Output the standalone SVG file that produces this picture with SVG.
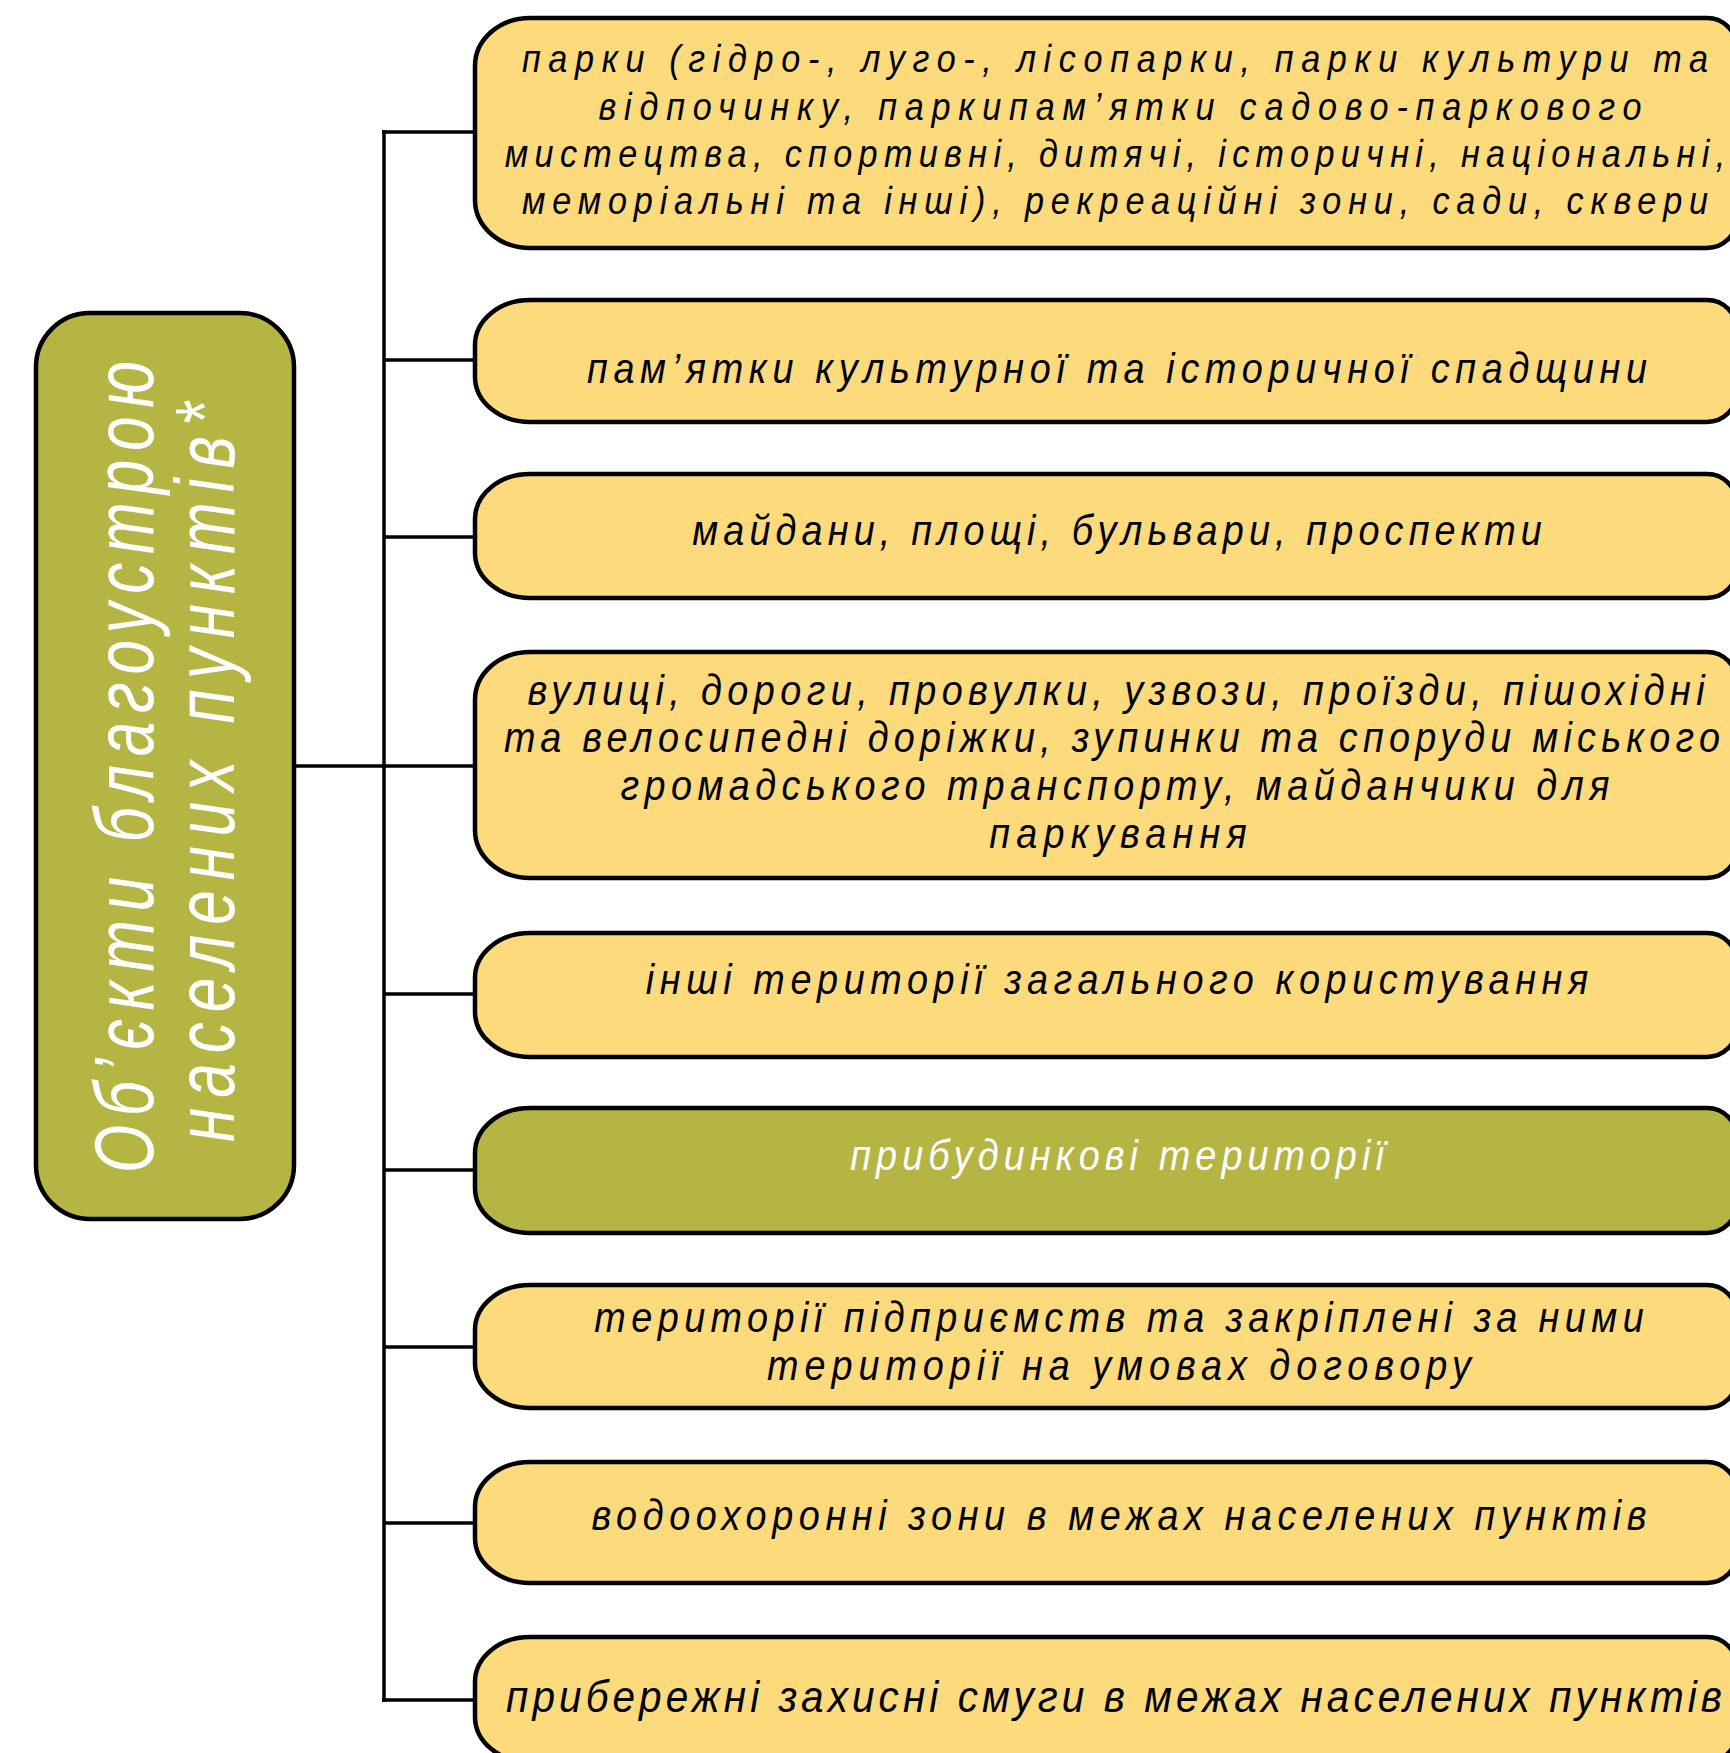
<svg xmlns="http://www.w3.org/2000/svg" width="1730" height="1753" viewBox="0 0 1730 1753">
<style>
.y{fill:#FDDB7D;stroke:#000;stroke-width:4.5}
.o{fill:#B5B544;stroke:#000;stroke-width:4.5}
.t{font-family:"Liberation Sans","DejaVu Sans",sans-serif;font-style:italic;font-size:42px;fill:#000;text-anchor:middle}
.s{font-size:38px}
.w{fill:#fff}
.ttl{font-family:"Liberation Sans","DejaVu Sans",sans-serif;font-style:italic;font-size:84px;fill:#fff;text-anchor:middle}
.c{fill:none;stroke:#000;stroke-width:3.5}
</style>
<rect width="1730" height="1753" fill="#fff"/>
<g id="connectors">
<line class="c" x1="384" y1="130" x2="384" y2="1702"/>
<line class="c" x1="294" y1="766" x2="475" y2="766"/>
<line class="c" x1="382" y1="132" x2="475" y2="132"/>
<line class="c" x1="384" y1="360" x2="475" y2="360"/>
<line class="c" x1="384" y1="537" x2="475" y2="537"/>
<line class="c" x1="384" y1="994" x2="475" y2="994"/>
<line class="c" x1="384" y1="1170" x2="475" y2="1170"/>
<line class="c" x1="384" y1="1347" x2="475" y2="1347"/>
<line class="c" x1="384" y1="1523" x2="475" y2="1523"/>
<line class="c" x1="382" y1="1700" x2="475" y2="1700"/>
</g>
<g id="root">
<rect class="o" x="36" y="313" width="258" height="906" rx="54" ry="54"/>
<text class="ttl" transform="translate(153,767) rotate(-90) scale(0.74,1)" textLength="1097">Об’єкти благоустрою</text>
<text class="ttl" transform="translate(234,772) rotate(-90) scale(0.74,1)" textLength="1000">населених пунктів*</text>
</g>
<g id="n1">
<path class="y" d="M530,18 H1707 A30,30 0 0 1 1737,48 V218 A30,30 0 0 1 1707,248 H530 A55,48 0 0 1 475,200 V66 A55,48 0 0 1 530,18 Z"/>
<text class="t s" transform="translate(1115,72) scale(0.9,1)" textLength="1318">парки (гідро-, луго-, лісопарки, парки культури та</text>
<text class="t s" transform="translate(1120,120) scale(0.9,1)" textLength="1159">відпочинку, паркипам’ятки садово-паркового</text>
<text class="t s" transform="translate(1115,167) scale(0.9,1)" textLength="1356">мистецтва, спортивні, дитячі, історичні, національні,</text>
<text class="t s" transform="translate(1115,214) scale(0.9,1)" textLength="1318">меморіальні та інші), рекреаційні зони, сади, сквери</text>
</g>
<g id="n2">
<path class="y" d="M530,300 H1707 A30,30 0 0 1 1737,330 V392 A30,30 0 0 1 1707,422 H530 A55,45 0 0 1 475,377 V345 A55,45 0 0 1 530,300 Z"/>
<text class="t" transform="translate(1117,383) scale(0.9,1)" textLength="1178">пам’ятки культурної та історичної спадщини</text>
</g>
<g id="n3">
<path class="y" d="M530,474 H1707 A30,30 0 0 1 1737,504 V568 A30,30 0 0 1 1707,598 H530 A55,45 0 0 1 475,553 V519 A55,45 0 0 1 530,474 Z"/>
<text class="t" transform="translate(1117,545) scale(0.9,1)" textLength="944">майдани, площі, бульвари, проспекти</text>
</g>
<g id="n4">
<path class="y" d="M530,652 H1707 A30,30 0 0 1 1737,682 V848 A30,30 0 0 1 1707,878 H530 A55,48 0 0 1 475,830 V700 A55,48 0 0 1 530,652 Z"/>
<text class="t" transform="translate(1116,705) scale(0.9,1)" textLength="1308">вулиці, дороги, провулки, узвози, проїзди, пішохідні</text>
<text class="t" transform="translate(1112,752) scale(0.9,1)" textLength="1351">та велосипедні доріжки, зупинки та споруди міського</text>
<text class="t" transform="translate(1115,800) scale(0.9,1)" textLength="1099">громадського транспорту, майданчики для</text>
<text class="t" transform="translate(1118,848) scale(0.9,1)" textLength="286">паркування</text>
</g>
<g id="n5">
<path class="y" d="M530,933 H1707 A30,30 0 0 1 1737,963 V1027 A30,30 0 0 1 1707,1057 H530 A55,45 0 0 1 475,1012 V978 A55,45 0 0 1 530,933 Z"/>
<text class="t" transform="translate(1117,994) scale(0.9,1)" textLength="1047">інші території загального користування</text>
</g>
<g id="n6">
<path class="o" d="M530,1108 H1707 A30,30 0 0 1 1737,1138 V1203 A30,30 0 0 1 1707,1233 H530 A55,45 0 0 1 475,1188 V1153 A55,45 0 0 1 530,1108 Z"/>
<text class="t w" transform="translate(1117,1170) scale(0.9,1)" textLength="593">прибудинкові території</text>
</g>
<g id="n7">
<path class="y" d="M530,1285 H1707 A30,30 0 0 1 1737,1315 V1378 A30,30 0 0 1 1707,1408 H530 A55,45 0 0 1 475,1363 V1330 A55,45 0 0 1 530,1285 Z"/>
<text class="t" transform="translate(1119,1332) scale(0.9,1)" textLength="1166">території підприємств та закріплені за ними</text>
<text class="t" transform="translate(1119,1380) scale(0.9,1)" textLength="782">території на умовах договору</text>
</g>
<g id="n8">
<path class="y" d="M530,1462 H1707 A30,30 0 0 1 1737,1492 V1553 A30,30 0 0 1 1707,1583 H530 A55,45 0 0 1 475,1538 V1507 A55,45 0 0 1 530,1462 Z"/>
<text class="t" transform="translate(1119,1530) scale(0.9,1)" textLength="1172">водоохоронні зони в межах населених пунктів</text>
</g>
<g id="n9">
<path class="y" d="M530,1637 H1707 A30,30 0 0 1 1737,1667 V1732 A30,30 0 0 1 1707,1762 H530 A55,45 0 0 1 475,1717 V1682 A55,45 0 0 1 530,1637 Z"/>
<text class="t" style="font-size:45px" transform="translate(1114,1712) scale(0.9,1)" textLength="1351">прибережні захисні смуги в межах населених пунктів</text>
</g>
</svg>
